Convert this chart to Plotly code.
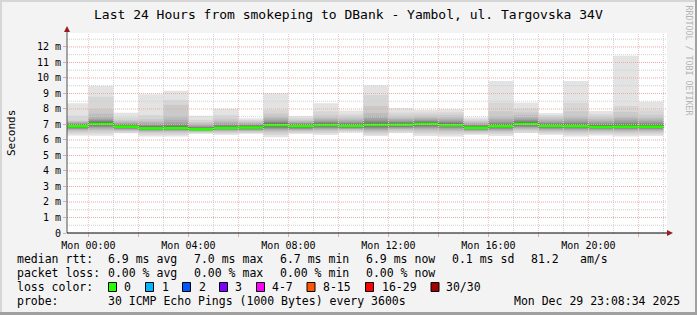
import plotly.graph_objects as go

# ---------------- data ----------------
# bar start, hours relative to Mon 00:00 (each bar = 1 hour, 30 pings)
bar_starts = [-1, 0, 1, 2, 3, 4, 5, 6, 7, 8, 9, 10, 11, 12, 13, 14, 15, 16, 17, 18, 19, 20, 21, 22]
median_ms = [6.88, 7.03, 6.86, 6.75, 6.77, 6.69, 6.78, 6.80, 6.95, 6.89, 6.96, 6.91,
             6.97, 6.98, 7.03, 6.95, 6.79, 6.88, 7.03, 6.90, 6.89, 6.84, 6.86, 6.86]

# sorted ping round-trip times (ms) for each hourly bar
pings_sun23 = [6.28, 6.40, 6.52, 6.60, 6.66, 6.70, 6.73, 6.76, 6.78, 6.80, 6.82, 6.84, 6.85, 6.86, 6.87, 6.89, 6.90, 6.92, 6.94, 6.96, 6.98, 7.00, 7.03, 7.06, 7.10, 7.15, 7.20, 7.25, 7.57, 8.37]
pings_mon00 = [6.28, 6.42, 6.55, 6.64, 6.72, 6.78, 6.83, 6.87, 6.90, 6.93, 6.96, 6.98, 7.00, 7.01, 7.02, 7.04, 7.06, 7.08, 7.10, 7.13, 7.16, 7.20, 7.25, 7.30, 7.35, 7.50, 7.70, 8.00, 8.79, 9.50]
pings_mon01 = [6.43, 6.50, 6.56, 6.61, 6.65, 6.69, 6.72, 6.75, 6.77, 6.79, 6.81, 6.83, 6.84, 6.85, 6.86, 6.87, 6.88, 6.90, 6.92, 6.94, 6.96, 6.98, 7.01, 7.04, 7.08, 7.13, 7.20, 7.30, 7.45, 7.76]
pings_mon02 = [6.22, 6.35, 6.45, 6.52, 6.57, 6.61, 6.64, 6.67, 6.69, 6.70, 6.71, 6.72, 6.73, 6.74, 6.75, 6.76, 6.77, 6.79, 6.81, 6.83, 6.86, 6.89, 6.93, 6.98, 7.04, 7.12, 7.22, 7.35, 7.60, 8.95]
pings_mon03 = [6.22, 6.34, 6.44, 6.52, 6.58, 6.62, 6.65, 6.68, 6.70, 6.72, 6.73, 6.74, 6.75, 6.76, 6.77, 6.78, 6.79, 6.81, 6.83, 6.86, 6.89, 6.93, 6.98, 7.05, 7.15, 7.30, 7.55, 8.26, 8.58, 9.18]
pings_mon04 = [6.39, 6.45, 6.50, 6.54, 6.57, 6.60, 6.62, 6.64, 6.65, 6.66, 6.67, 6.68, 6.68, 6.69, 6.69, 6.70, 6.71, 6.72, 6.73, 6.75, 6.77, 6.80, 6.83, 6.87, 6.92, 6.98, 7.06, 7.16, 7.30, 7.57]
pings_mon05 = [6.33, 6.42, 6.49, 6.55, 6.60, 6.64, 6.67, 6.70, 6.72, 6.74, 6.75, 6.76, 6.77, 6.77, 6.78, 6.79, 6.80, 6.81, 6.83, 6.85, 6.88, 6.91, 6.95, 7.00, 7.06, 7.14, 7.24, 7.38, 7.60, 8.02]
pings_mon06 = [6.39, 6.46, 6.52, 6.57, 6.61, 6.64, 6.67, 6.70, 6.72, 6.74, 6.76, 6.77, 6.78, 6.79, 6.80, 6.81, 6.82, 6.83, 6.85, 6.87, 6.89, 6.92, 6.95, 6.99, 7.03, 7.08, 7.14, 7.21, 7.29, 7.40]
pings_mon07 = [6.18, 6.32, 6.44, 6.54, 6.62, 6.68, 6.73, 6.78, 6.82, 6.85, 6.88, 6.90, 6.92, 6.93, 6.94, 6.96, 6.97, 6.99, 7.01, 7.04, 7.07, 7.11, 7.16, 7.22, 7.30, 7.40, 7.55, 7.70, 7.94, 9.01]
pings_mon08 = [6.39, 6.47, 6.54, 6.60, 6.65, 6.69, 6.72, 6.75, 6.78, 6.80, 6.82, 6.84, 6.86, 6.87, 6.88, 6.90, 6.91, 6.92, 6.94, 6.96, 6.98, 7.01, 7.04, 7.08, 7.12, 7.17, 7.23, 7.31, 7.42, 7.55]
pings_mon09 = [6.33, 6.44, 6.54, 6.62, 6.68, 6.73, 6.77, 6.81, 6.84, 6.87, 6.89, 6.91, 6.93, 6.94, 6.95, 6.97, 6.98, 7.00, 7.02, 7.04, 7.07, 7.10, 7.14, 7.19, 7.25, 7.33, 7.44, 7.60, 7.85, 8.37]
pings_mon10 = [6.48, 6.55, 6.61, 6.66, 6.70, 6.73, 6.76, 6.79, 6.81, 6.83, 6.85, 6.87, 6.88, 6.89, 6.90, 6.92, 6.93, 6.95, 6.97, 6.99, 7.02, 7.05, 7.09, 7.14, 7.20, 7.28, 7.38, 7.50, 7.66, 7.90]
pings_mon11 = [6.26, 6.36, 6.46, 6.55, 6.63, 6.69, 6.74, 6.79, 6.83, 6.86, 6.89, 6.91, 6.93, 6.95, 6.96, 6.98, 6.99, 7.01, 7.03, 7.06, 7.10, 7.15, 7.22, 7.31, 7.42, 7.56, 7.75, 8.20, 8.90, 9.53]
pings_mon12 = [6.44, 6.52, 6.60, 6.67, 6.72, 6.76, 6.80, 6.83, 6.86, 6.89, 6.91, 6.93, 6.95, 6.96, 6.97, 6.99, 7.00, 7.02, 7.04, 7.06, 7.09, 7.12, 7.16, 7.21, 7.27, 7.35, 7.45, 7.58, 7.76, 8.05]
pings_mon13 = [6.26, 6.40, 6.52, 6.62, 6.70, 6.76, 6.81, 6.86, 6.90, 6.93, 6.96, 6.98, 7.00, 7.01, 7.02, 7.04, 7.05, 7.07, 7.09, 7.11, 7.14, 7.17, 7.21, 7.26, 7.32, 7.40, 7.50, 7.62, 7.76, 7.94]
pings_mon14 = [6.22, 6.36, 6.48, 6.58, 6.66, 6.72, 6.77, 6.81, 6.85, 6.88, 6.90, 6.92, 6.93, 6.94, 6.95, 6.96, 6.97, 6.99, 7.01, 7.03, 7.06, 7.10, 7.15, 7.21, 7.28, 7.37, 7.48, 7.62, 7.78, 7.98]
pings_mon15 = [6.33, 6.41, 6.48, 6.54, 6.59, 6.63, 6.66, 6.69, 6.71, 6.73, 6.75, 6.76, 6.77, 6.78, 6.79, 6.80, 6.81, 6.82, 6.84, 6.86, 6.88, 6.91, 6.94, 6.98, 7.03, 7.09, 7.16, 7.24, 7.33, 7.45]
pings_mon16 = [6.26, 6.38, 6.48, 6.56, 6.62, 6.67, 6.71, 6.75, 6.78, 6.81, 6.83, 6.85, 6.86, 6.87, 6.88, 6.89, 6.90, 6.92, 6.94, 6.97, 7.00, 7.04, 7.09, 7.16, 7.25, 7.37, 7.55, 7.85, 8.41, 9.81]
pings_mon17 = [6.44, 6.53, 6.62, 6.69, 6.75, 6.80, 6.84, 6.88, 6.91, 6.94, 6.96, 6.98, 7.00, 7.01, 7.02, 7.04, 7.05, 7.07, 7.09, 7.12, 7.15, 7.19, 7.24, 7.30, 7.38, 7.48, 7.61, 7.78, 8.02, 8.41]
pings_mon18 = [6.33, 6.43, 6.52, 6.59, 6.65, 6.70, 6.74, 6.77, 6.80, 6.82, 6.84, 6.86, 6.87, 6.88, 6.89, 6.91, 6.92, 6.94, 6.96, 6.98, 7.01, 7.04, 7.08, 7.13, 7.19, 7.27, 7.37, 7.48, 7.60, 7.73]
pings_mon19 = [6.22, 6.35, 6.46, 6.55, 6.62, 6.68, 6.72, 6.76, 6.79, 6.82, 6.84, 6.86, 6.87, 6.88, 6.89, 6.90, 6.91, 6.93, 6.95, 6.98, 7.01, 7.05, 7.10, 7.17, 7.26, 7.38, 7.55, 7.85, 8.40, 9.81]
pings_mon20 = [6.28, 6.39, 6.48, 6.56, 6.62, 6.67, 6.71, 6.74, 6.77, 6.79, 6.81, 6.82, 6.83, 6.84, 6.84, 6.85, 6.86, 6.88, 6.90, 6.92, 6.95, 6.99, 7.04, 7.10, 7.17, 7.26, 7.37, 7.50, 7.66, 7.87]
pings_mon21 = [6.22, 6.34, 6.45, 6.54, 6.61, 6.67, 6.71, 6.75, 6.78, 6.80, 6.82, 6.84, 6.85, 6.86, 6.86, 6.87, 6.88, 6.90, 6.92, 6.95, 6.99, 7.04, 7.10, 7.18, 7.28, 7.40, 7.56, 7.80, 8.20, 11.44]
pings_mon22 = [6.26, 6.37, 6.47, 6.55, 6.62, 6.67, 6.71, 6.75, 6.78, 6.80, 6.82, 6.84, 6.85, 6.86, 6.86, 6.87, 6.88, 6.90, 6.92, 6.95, 6.98, 7.02, 7.07, 7.13, 7.21, 7.31, 7.44, 7.62, 7.90, 8.47]

all_pings = [pings_sun23, pings_mon00, pings_mon01, pings_mon02, pings_mon03, pings_mon04,
             pings_mon05, pings_mon06, pings_mon07, pings_mon08, pings_mon09, pings_mon10,
             pings_mon11, pings_mon12, pings_mon13, pings_mon14, pings_mon15, pings_mon16,
             pings_mon17, pings_mon18, pings_mon19, pings_mon20, pings_mon21, pings_mon22]

x_tick_vals = [0, 2, 4, 6, 8, 10, 12, 14, 16, 18, 20, 22]
x_tick_text = ["Mon 00:00", "", "Mon 04:00", "", "Mon 08:00", "", "Mon 12:00", "",
               "Mon 16:00", "", "Mon 20:00", ""]
y_tick_vals = [0, 1, 2, 3, 4, 5, 6, 7, 8, 9, 10, 11, 12]
y_tick_text = ["0", "1 m", "2 m", "3 m", "4 m", "5 m", "6 m", "7 m", "8 m", "9 m", "10 m", "11 m", "12 m"]

title = "Last 24 Hours from smokeping to DBank - Yambol, ul. Targovska 34V"
stats_rtt = ["6.9 ms avg", "7.0 ms max", "6.7 ms min", "6.9 ms now", "0.1 ms sd", "81.2", "am/s"]
stats_loss = ["0.00 % avg", "0.00 % max", "0.00 % min", "0.00 % now"]
loss_labels = ["0", "1", "2", "3", "4-7", "8-15", "16-29", "30/30"]
loss_colors = ["#26ff00", "#00b8ff", "#0059ff", "#7e00ff", "#ff00ff", "#ff5500", "#ff0000", "#a10000"]
probe_text = "30 ICMP Echo Pings (1000 Bytes) every 3600s"
stamp_text = "Mon Dec 29 23:08:34 2025"

# ---------------- style / geometry ----------------
X_RANGE = [-0.857, 23.143]
Y_RANGE = [0, 12.9]
L, T, PW, PH = 67, 33, 600, 200
W, H = 697, 315
MONO = "DejaVu Sans Mono"
MAJ_H = "#e8a8a8"
MAJ_V = "#f0c4c4"
MIN = "#cfcfcf"
MED_H = 0.17


def px(xp):
    return (xp - L) / PW


def py(yp):
    return (T + PH - yp) / PH


fig = go.Figure()

half = 15
for k in range(half):
    c = int(190 / half * (half - (k + 1))) + 50
    col = "#%02x%02x%02x" % (c, c, c)
    base = [p[k] for p in all_pings]
    hgt = [p[29 - k] - p[k] for p in all_pings]
    fig.add_trace(go.Bar(x=bar_starts, y=hgt, base=base, width=1, offset=0,
                         marker=dict(color=col, line=dict(width=0)), hoverinfo="skip"))

fig.add_trace(go.Bar(x=bar_starts, y=[MED_H] * len(median_ms),
                     base=[m - MED_H / 2 for m in median_ms], width=1, offset=0,
                     marker=dict(color=loss_colors[0], line=dict(width=0)), hoverinfo="skip"))

shapes = []
# grid (drawn above the smoke like rrdtool)
for v2 in range(1, 26):
    v = v2 / 2
    if v > Y_RANGE[1]:
        break
    major = (v2 % 2 == 0)
    shapes.append(dict(type="line", xref="paper", yref="y", x0=0, x1=1, y0=v, y1=v,
                       line=dict(color=MAJ_H if major else MIN, width=1, dash="1px,1px"), layer="above"))
for hr in range(0, 24):
    major = (hr % 2 == 0)
    shapes.append(dict(type="line", xref="x", yref="paper", x0=hr, x1=hr, y0=0, y1=1,
                       line=dict(color=MAJ_V if major else MIN, width=1, dash="1px,1px"), layer="above"))
# axes with arrows
shapes.append(dict(type="line", xref="paper", yref="paper", x0=0, x1=0, y0=0, y1=py(28),
                   line=dict(color="#505050", width=1), layer="above"))
shapes.append(dict(type="line", xref="paper", yref="paper", x0=0, x1=px(670), y0=0, y1=0,
                   line=dict(color="#000000", width=1), layer="above"))
shapes.append(dict(type="path", xref="paper", yref="paper",
                   path="M %f %f L %f %f L %f %f Z" % (px(64), py(32), px(70), py(32), px(67), py(26)),
                   fillcolor="#9b1c1c", line=dict(width=0), layer="above"))
shapes.append(dict(type="path", xref="paper", yref="paper",
                   path="M %f %f L %f %f L %f %f Z" % (px(667), py(230), px(667), py(236), px(673), py(233)),
                   fillcolor="#9b1c1c", line=dict(width=0), layer="above"))
# frame
shapes.append(dict(type="rect", xref="paper", yref="paper", x0=px(0), x1=px(2), y0=py(0), y1=py(H),
                   fillcolor="#d6d6d6", line=dict(width=0), layer="above"))
shapes.append(dict(type="rect", xref="paper", yref="paper", x0=px(0), x1=px(W), y0=py(0), y1=py(2),
                   fillcolor="#d6d6d6", line=dict(width=0), layer="above"))
shapes.append(dict(type="rect", xref="paper", yref="paper", x0=px(W - 2), x1=px(W), y0=py(0), y1=py(H),
                   fillcolor="#a0a0a0", line=dict(width=0), layer="above"))
shapes.append(dict(type="rect", xref="paper", yref="paper", x0=px(0), x1=px(W), y0=py(H - 3), y1=py(H),
                   fillcolor="#a0a0a0", line=dict(width=0), layer="above"))

# loss colour boxes
box_x = [108.5, 145.5, 182.5, 219.5, 256.5, 307, 365.5, 431]
label_x = [123.3, 160.7, 197.7, 234, 271, 322, 380.7, 445.3]
for bx, colr in zip(box_x, loss_colors):
    shapes.append(dict(type="rect", xref="paper", yref="paper", x0=px(bx), x1=px(bx + 8),
                       y0=py(291.5), y1=py(282.5), fillcolor=colr,
                       line=dict(color="#000000", width=1), layer="above"))

ann = []


def txt(x, y, s, size=11.5, color="#000000", anchor="left", angle=0):
    ann.append(dict(xref="paper", yref="paper", x=px(x), y=py(y), text=s, showarrow=False,
                    xanchor=anchor, yanchor="middle", textangle=angle, borderpad=0,
                    font=dict(family=MONO, size=size, color=color)))


txt(348.5, 14, title, size=13, anchor="center")
txt(11, 133, "Seconds", size=11, anchor="center", angle=-90)
txt(688.5, 60, "RRDTOOL / TOBI OETIKER", size=8.3, color="#b4b4b4", anchor="center", angle=90)

col_x = [107.3, 193.3, 279.3, 365, 451, 530, 579.3]
txt(16, 259.3, "median rtt:")
for s, x in zip(stats_rtt, col_x):
    txt(x, 259.3, s)
txt(16, 273.3, "packet loss:")
for s, x in zip(stats_loss, col_x):
    txt(x, 273.3, s)
txt(16, 287.3, "loss color:")
for s, x in zip(loss_labels, label_x):
    txt(x, 287.3, s)
txt(16, 301, "probe:")
txt(107.3, 301, probe_text)
txt(512.7, 301, stamp_text)

fig.update_layout(
    width=W, height=H,
    margin=dict(l=L, r=W - L - PW, t=T, b=H - T - PH, pad=0),
    paper_bgcolor="#f3f3f3", plot_bgcolor="#ffffff",
    barmode="overlay", showlegend=False,
    shapes=shapes, annotations=ann,
    xaxis=dict(range=X_RANGE, showgrid=False, zeroline=False, showline=False,
               tickmode="array", tickvals=x_tick_vals, ticktext=x_tick_text,
               ticks="outside", ticklen=3, tickcolor=MAJ_H, tickwidth=1,
               tickfont=dict(family=MONO, size=10, color="#000000")),
    yaxis=dict(range=Y_RANGE, showgrid=False, zeroline=False, showline=False,
               tickmode="array", tickvals=y_tick_vals, ticktext=y_tick_text,
               ticks="outside", ticklen=3, tickcolor=MAJ_H, tickwidth=1,
               tickfont=dict(family=MONO, size=10, color="#000000")),
)

fig.write_html("out.html")
